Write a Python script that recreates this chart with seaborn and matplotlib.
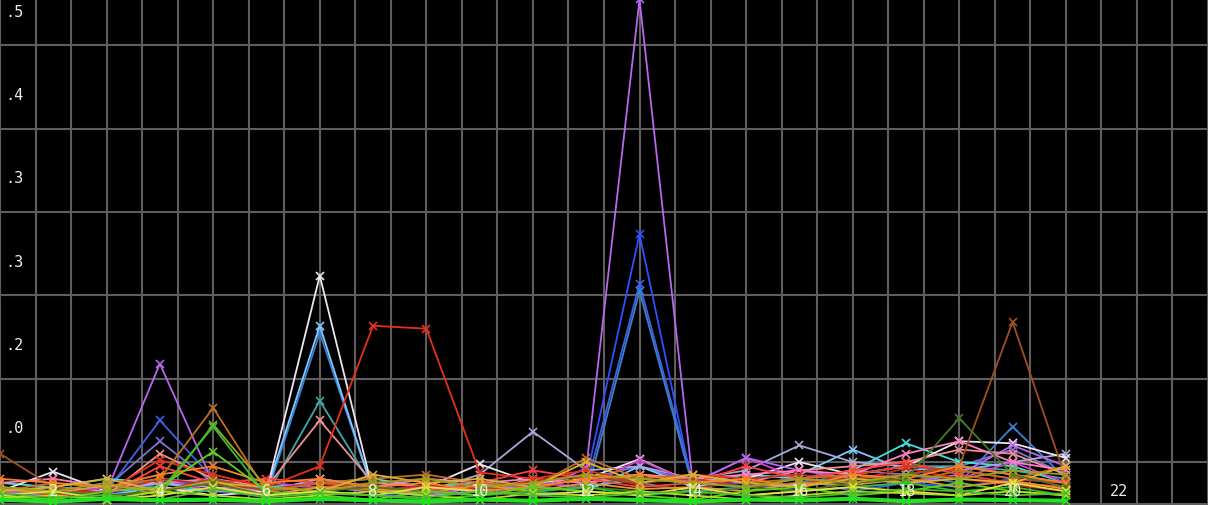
import numpy as np
import pandas as pd
import seaborn as sns
import matplotlib.pyplot as plt

# sample index on the x axis
steps = list(range(1, 22))

# one list per trace (grid units)
violet = [0.3, 0.2, 0.3, 3.36, 0.5, 0.2, 0.4, 0.3, 0.2, 0.4, 0.3, 0.85, 12.1, 0.5, 1.1, 0.8, 0.6, 0.5, 0.7, 1.4, 0.9]
royal_blue = [0.2, 0.3, 0.2, 0.5, 0.3, 0.2, 0.3, 0.2, 0.3, 0.2, 0.4, 0.6, 6.47, 0.4, 0.5, 0.3, 0.4, 0.5, 0.4, 0.6, 0.5]
blue = [0.1, 0.2, 0.3, 2.0, 0.6, 0.3, 0.4, 0.3, 0.2, 0.3, 0.5, 0.4, 5.28, 0.5, 0.4, 0.6, 0.3, 0.5, 0.6, 0.5, 0.4]
steel_blue = [0.3, 0.2, 0.1, 0.5, 0.5, 0.2, 4.1, 0.3, 0.2, 0.4, 0.3, 0.2, 5.1, 0.4, 0.3, 0.5, 0.6, 0.7, 0.5, 1.85, 0.6]
light_blue = [0.2, 0.3, 0.2, 0.4, 0.3, 0.3, 4.27, 0.3, 0.2, 0.3, 0.4, 0.3, 0.9, 0.4, 0.6, 0.7, 1.3, 0.8, 0.9, 0.7, 0.5]
white = [0.3, 0.77, 0.3, 0.4, 0.2, 0.3, 5.47, 0.3, 0.4, 0.95, 0.5, 0.6, 1.07, 0.5, 0.6, 1.0, 0.7, 0.9, 1.5, 1.45, 1.1]
teal = [0.2, 0.4, 0.3, 0.6, 0.5, 0.2, 2.47, 0.4, 0.3, 0.5, 0.4, 0.6, 0.5, 0.3, 0.4, 0.5, 0.7, 0.9, 0.9, 0.8, 0.6]
salmon = [0.4, 0.3, 0.2, 1.2, 0.6, 0.4, 2.0, 0.5, 0.4, 0.3, 0.6, 0.5, 0.7, 0.6, 0.5, 0.8, 0.9, 1.0, 1.3, 1.2, 0.7]
red = [0.4, 0.2, 0.3, 1.05, 0.7, 0.4, 0.9, 4.27, 4.2, 0.75, 0.6, 0.8, 0.5, 0.7, 0.6, 0.4, 0.7, 0.9, 0.8, 0.6, 0.5]
bright_red = [0.2, 0.3, 0.2, 0.9, 0.5, 0.6, 0.5, 0.4, 0.3, 0.5, 0.8, 0.6, 0.4, 0.5, 0.9, 0.6, 0.8, 1.0, 0.7, 0.5, 0.4]
dark_red = [0.3, 0.4, 0.25, 0.6, 0.45, 0.35, 0.5, 0.3, 0.45, 0.35, 0.55, 0.7, 0.45, 0.35, 0.6, 0.7, 0.55, 0.85, 0.6, 0.45, 0.3]
brown = [1.2, 0.4, 0.2, 0.3, 0.6, 0.3, 0.4, 0.5, 0.6, 0.4, 0.3, 0.7, 0.5, 0.6, 0.4, 0.5, 0.6, 0.7, 0.9, 4.36, 0.6]
copper = [0.3, 0.5, 0.4, 0.6, 2.3, 0.3, 0.5, 0.6, 0.7, 0.5, 0.4, 1.1, 0.6, 0.7, 0.5, 0.6, 0.7, 0.5, 0.8, 0.6, 0.9]
green = [0.1, 0.2, 0.1, 0.3, 1.85, 0.2, 0.3, 0.2, 0.1, 0.2, 0.3, 0.4, 0.2, 0.3, 0.2, 0.3, 0.4, 0.5, 0.3, 0.4, 0.2]
olive = [0.4, 0.3, 0.5, 0.2, 1.9, 0.4, 0.3, 0.5, 0.6, 0.4, 0.5, 0.7, 0.6, 0.5, 0.4, 0.6, 0.5, 0.7, 0.6, 0.8, 0.7]
lime = [0.2, 0.1, 0.3, 0.4, 1.25, 0.3, 0.2, 0.1, 0.3, 0.2, 0.4, 0.3, 0.2, 0.1, 0.3, 0.4, 0.2, 0.3, 0.5, 0.3, 0.2]
orange = [0.6, 0.5, 0.4, 0.7, 0.9, 0.5, 0.6, 0.4, 0.5, 0.3, 0.4, 0.6, 0.7, 0.5, 0.6, 0.4, 0.7, 0.6, 0.9, 0.7, 0.5]
amber = [0.35, 0.25, 0.45, 0.3, 0.55, 0.2, 0.4, 0.35, 0.25, 0.45, 0.3, 0.5, 0.35, 0.4, 0.3, 0.5, 0.45, 0.6, 0.4, 0.55, 0.35]
lavender = [0.3, 0.4, 0.3, 0.5, 0.4, 0.3, 0.6, 0.4, 0.3, 0.7, 1.73, 0.8, 0.9, 0.6, 0.8, 1.4, 1.0, 0.9, 0.8, 1.0, 1.2]
dark_green = [0.2, 0.3, 0.2, 0.3, 0.5, 0.2, 0.3, 0.4, 0.3, 0.2, 0.3, 0.4, 0.3, 0.2, 0.4, 0.3, 0.5, 0.6, 2.05, 0.7, 0.4]
cyan = [0.5, 0.4, 0.6, 0.5, 0.3, 0.4, 0.5, 0.6, 0.4, 0.5, 0.3, 0.4, 0.6, 0.5, 0.7, 0.6, 0.8, 1.45, 1.0, 0.9, 0.5]
pink = [0.5, 0.6, 0.4, 0.5, 0.6, 0.3, 0.5, 0.4, 0.6, 0.5, 0.6, 0.5, 0.7, 0.6, 0.7, 0.8, 0.7, 1.2, 1.5, 1.0, 0.8]
gold = [0.3, 0.4, 0.6, 0.3, 0.5, 0.4, 0.3, 0.7, 0.5, 0.6, 0.4, 1.0, 0.5, 0.7, 0.5, 0.4, 0.6, 0.5, 0.6, 0.5, 0.9]
magenta = [0.3, 0.2, 0.4, 0.6, 0.3, 0.5, 0.4, 0.3, 0.4, 0.3, 0.5, 0.4, 1.05, 0.5, 1.1, 0.6, 0.5, 0.7, 0.6, 1.0, 0.5]
slate = [0.2, 0.3, 0.4, 1.5, 0.5, 0.3, 0.6, 0.4, 0.3, 0.5, 0.4, 0.6, 0.9, 0.5, 0.7, 0.6, 0.8, 0.7, 0.9, 1.3, 0.7]
yellow = [0.2, 0.3, 0.1, 0.2, 0.4, 0.2, 0.3, 0.2, 0.4, 0.3, 0.2, 0.3, 0.2, 0.4, 0.2, 0.3, 0.4, 0.3, 0.2, 0.5, 0.3]
yellow_green = [0.15, 0.2, 0.1, 0.3, 0.2, 0.1, 0.2, 0.3, 0.2, 0.1, 0.25, 0.2, 0.3, 0.2, 0.1, 0.2, 0.3, 0.25, 0.2, 0.3, 0.2]
grass = [0.25, 0.15, 0.2, 0.1, 0.35, 0.15, 0.25, 0.2, 0.15, 0.3, 0.2, 0.15, 0.25, 0.3, 0.2, 0.15, 0.25, 0.35, 0.3, 0.2, 0.25]
bright_green = [0.1, 0.05, 0.12, 0.08, 0.1, 0.06, 0.12, 0.08, 0.05, 0.1, 0.07, 0.12, 0.09, 0.05, 0.1, 0.08, 0.12, 0.06, 0.1, 0.09, 0.07]

# drawn in this order: cool colours first, warm / green band on top
traces = {
    'royal_blue': (royal_blue, '#3050ff'),
    'blue': (blue, '#4060e0'),
    'steel_blue': (steel_blue, '#3a80d0'),
    'slate': (slate, '#8070d0'),
    'light_blue': (light_blue, '#80c8ff'),
    'teal': (teal, '#40a8a8'),
    'cyan': (cyan, '#40e0e0'),
    'lavender': (lavender, '#a8a8e0'),
    'white': (white, '#f0e4f0'),
    'magenta': (magenta, '#d040d0'),
    'violet': (violet, '#b868f0'),
    'salmon': (salmon, '#f09090'),
    'pink': (pink, '#ff80c0'),
    'dark_red': (dark_red, '#c02818'),
    'bright_red': (bright_red, '#ff4040'),
    'red': (red, '#e83018'),
    'brown': (brown, '#a05020'),
    'copper': (copper, '#c07020'),
    'orange': (orange, '#ff8020'),
    'amber': (amber, '#e09a30'),
    'gold': (gold, '#e0b030'),
    'dark_green': (dark_green, '#4a7a20'),
    'olive': (olive, '#a0a020'),
    'green': (green, '#30c030'),
    'lime': (lime, '#60d020'),
    'yellow': (yellow, '#e8e040'),
    'yellow_green': (yellow_green, '#b0e020'),
    'grass': (grass, '#50b830'),
    'bright_green': (bright_green, '#22e022'),
}

# y tick labels as they appear (cropped screenshot)
ytick_pos = [2, 4, 6, 8, 10, 12]
ytick_labels = ['.0', '.2', '.3', '.3', '.4', '.5']
xtick_pos = [2, 4, 6, 8, 10, 12, 14, 16, 18, 20, 22]

rows = []
for name, (vals, _) in traces.items():
    for x, y in zip(steps, vals):
        rows.append({'step': x, 'value': y, 'trace': name})
df = pd.DataFrame(rows)
palette = {name: c for name, (_, c) in traces.items()}

sns.set_style('dark', {'axes.facecolor': 'black', 'figure.facecolor': 'black'})

fig = plt.figure(figsize=(12.08, 5.06), dpi=100)
ax = fig.add_axes([0, 0, 1, 1])

sns.lineplot(data=df, x='step', y='value', hue='trace', palette=palette,
             hue_order=list(traces.keys()), marker='x', markersize=6, mew=1.2,
             linewidth=1.3, legend=False, ax=ax)
for line in ax.lines:
    line.set_markeredgecolor(line.get_color())
# the bottom green trace is drawn thick in the original
ax.lines[-1].set_linewidth(3)

ax.set_xlim(1.07, 23.48)
ax.set_ylim(-0.03, 12.11)

# grid on minor ticks only, kept under the traces
ax.set_xticks(np.arange(1, 24, 2 / 3), minor=True)
ax.set_yticks(np.arange(0, 13, 1), minor=True)
ax.grid(False, which='major')
ax.grid(True, which='minor', color='#5e5e5e', linewidth=1.5)
ax.set_axisbelow(True)

ax.set_xticks([])
ax.set_yticks(ytick_pos, ytick_labels)
ax.tick_params(axis='y', which='both', length=0, direction='in', pad=-4,
               labelsize=11, labelcolor='#eeeeee')
ax.tick_params(axis='x', which='both', length=0)
for lab in ax.get_yticklabels():
    lab.set_horizontalalignment('left')
    lab.set_verticalalignment('top')
    lab.set_family('DejaVu Sans Mono')

# x labels sit inside the plot, on top of the traces
for v in xtick_pos:
    ax.text(v, 0.028, str(v), transform=ax.get_xaxis_transform(),
            ha='center', va='center', fontsize=11, color='#eeeede',
            family='DejaVu Sans Mono', zorder=5)

ax.set_xlabel('')
ax.set_ylabel('')
for s in ax.spines.values():
    s.set_visible(False)

fig.savefig('out.png', dpi=100, facecolor='black')
